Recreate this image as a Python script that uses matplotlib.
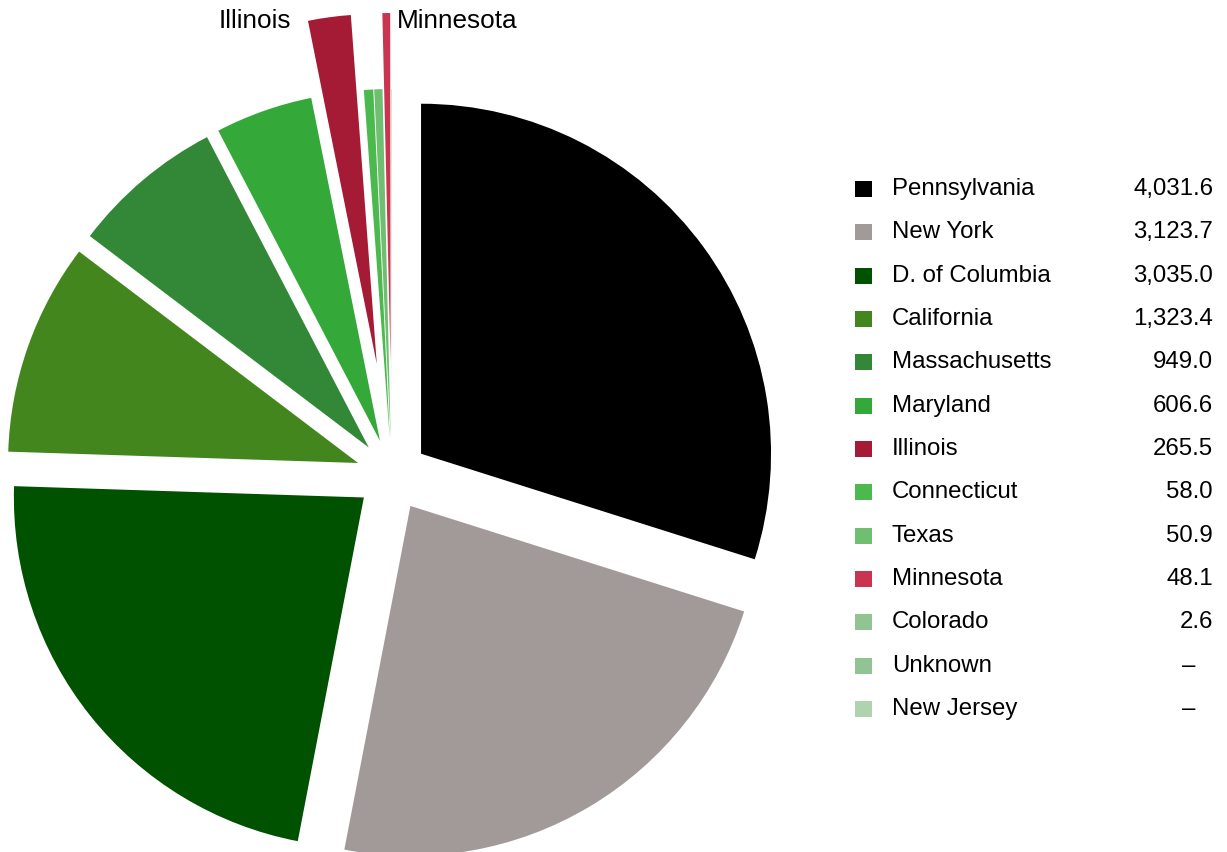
import numpy as np
import matplotlib.pyplot as plt
from matplotlib.patches import Rectangle

plt.rcParams['font.family'] = ['Liberation Sans', 'DejaVu Sans']

states = ['Pennsylvania', 'New York', 'D. of Columbia', 'California', 'Massachusetts',
          'Maryland', 'Illinois', 'Connecticut', 'Texas', 'Minnesota', 'Colorado',
          'Unknown', 'New Jersey']
values = [4031.6, 3123.7, 3035.0, 1323.4, 949.0, 606.6, 265.5, 58.0, 50.9, 48.1, 2.6,
          None, None]
colors = ['#000000', '#a29a98', '#005200', '#44861e', '#338837', '#34a839', '#a51a34',
          '#4cb94f', '#70be72', '#c9344f', '#92c393', '#92c393', '#afd3ae']
labelled = ['Illinois', 'Minnesota']

W, H = 1227, 852
FS = 17.3
fig = plt.figure(figsize=(W / 100, H / 100), dpi=100)
ax = fig.add_axes([0, 0, 1, 1])

# pie (only states with a value); explode is in the same units as radius
pie_vals = [v for v in values if v]
pie_cols = colors[:len(pie_vals)]
pie_names = states[:len(pie_vals)]
R = 350
explode = [112 if n in labelled else 36 for n in pie_names]
cx, cy = 392, H - 475
wedges, _ = ax.pie(pie_vals, colors=pie_cols, explode=explode, startangle=90,
                   counterclock=False, radius=R, center=(cx, cy),
                   wedgeprops=dict(linewidth=0), frame=True)
ax.set_xlim(0, W)
ax.set_ylim(0, H)
ax.axis('off')

for w, n in zip(wedges, pie_names):
    if n not in labelled:
        continue
    wx, wy = w.center
    if n == 'Illinois':
        x = wx + R * np.cos(np.deg2rad(w.theta2))
        ax.text(x - 17, H - 21, n, ha='right', va='center', fontsize=18.8)
    else:
        x = wx + R * np.cos(np.deg2rad(w.theta1))
        ax.text(x + 7, H - 21, n, ha='left', va='center', fontsize=18.8)

# legend with values
row0, step = 188, (708 - 188) / 12
for i, (n, v, c) in enumerate(zip(states, values, colors)):
    yc = H - (row0 + i * step)
    ax.add_patch(Rectangle((855, yc - 9), 17, 16, facecolor=c, edgecolor='none'))
    ax.text(892, yc - 7, n, ha='left', va='baseline', fontsize=FS)
    s = f'{v:,.1f}' if v else '\u2013'
    xr = 1213 if v else 1196
    ax.text(xr, yc - 7, s, ha='right', va='baseline', fontsize=FS)

fig.savefig('out.png', dpi=100)
